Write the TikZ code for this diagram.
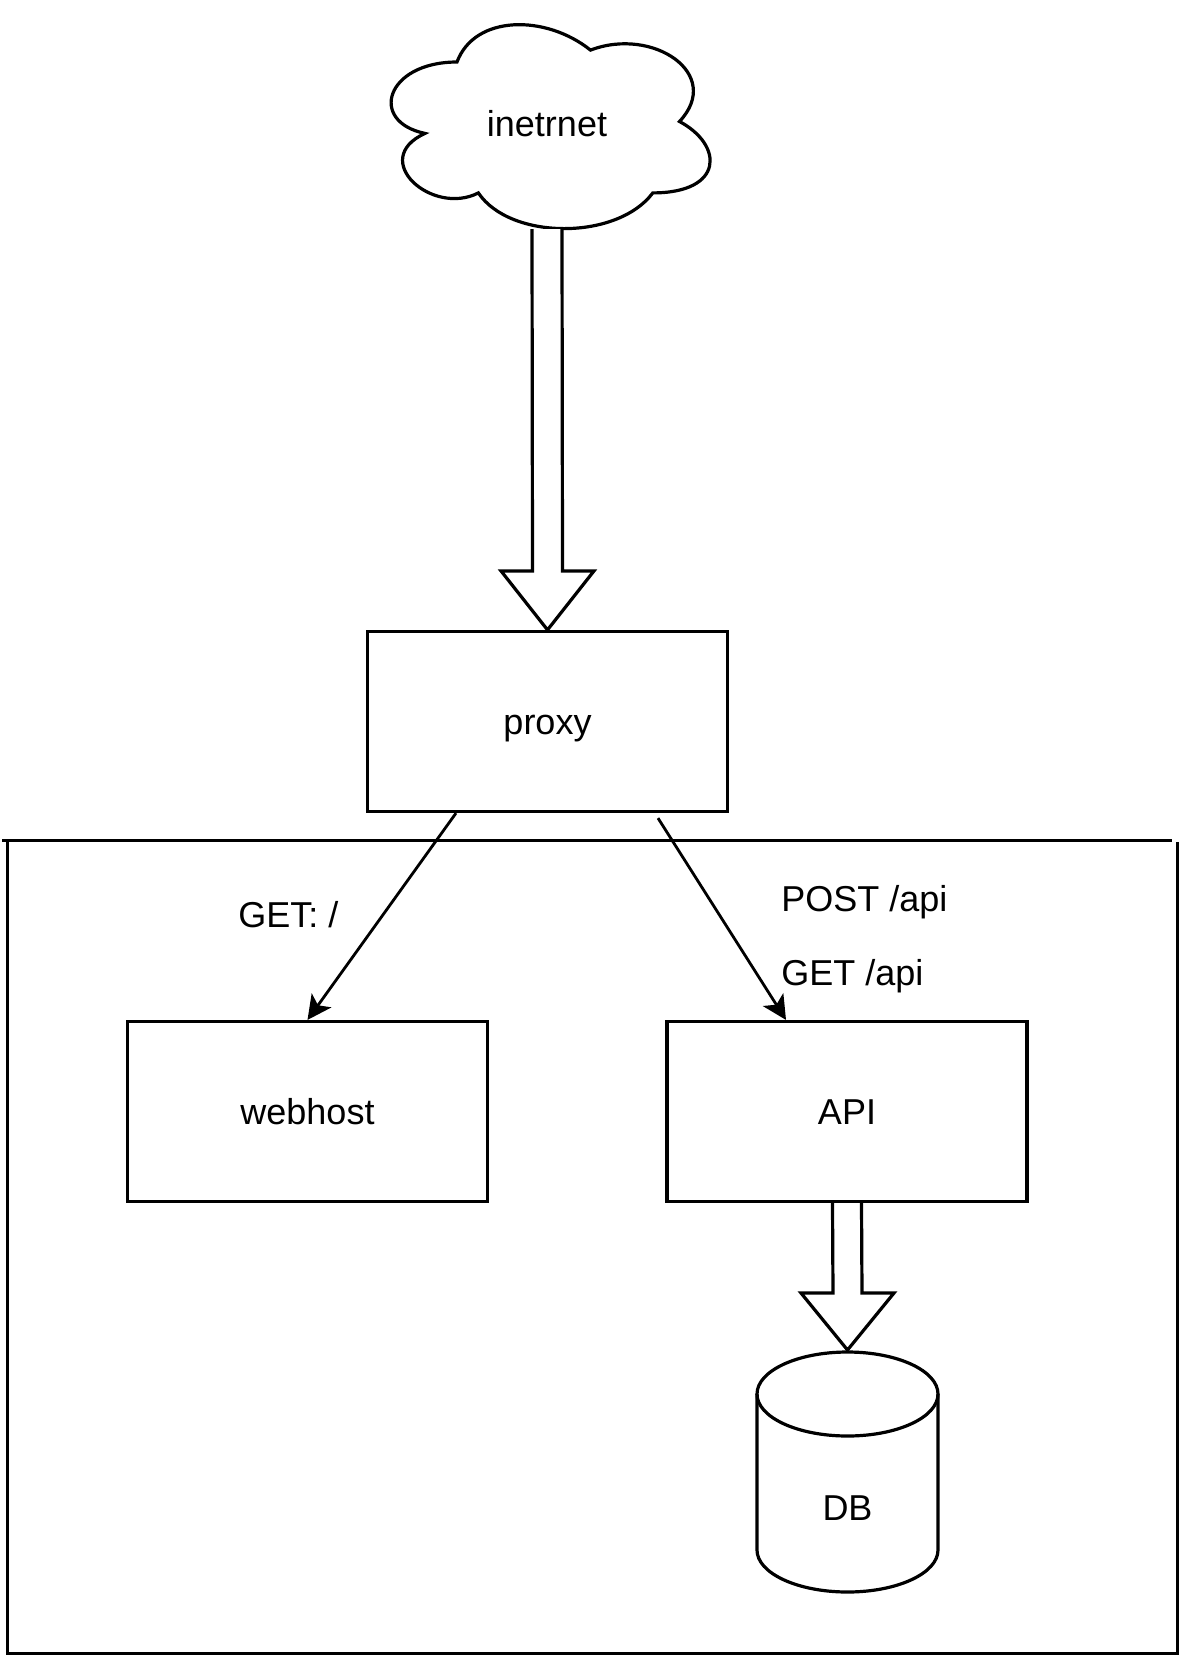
\documentclass[tikz,border=0pt]{standalone}
\usepackage{fontspec}
\setmainfont{Liberation Sans}
\usetikzlibrary{arrows.meta,calc}
\begin{document}
\begin{tikzpicture}[x=0.5pt,y=-0.5pt,
  box/.style={draw, line width=1.6pt, minimum width=180pt, minimum height=90pt, inner sep=0pt, text height=13pt, text depth=0pt, font=\fontsize{18}{22}\selectfont},
  lbl/.style={inner sep=0pt, font=\fontsize{18}{22}\selectfont},
  conn/.style={line width=1.4pt, -{Stealth[length=12pt,width=12pt,inset=3pt]}},
  fat/.style={draw, line width=1.6pt, fill=white, line join=miter},
  frame/.style={line width=1.5pt}]
\useasboundingbox (0,0) rectangle (1182,1656);

% container
\draw[frame] (2,840) -- (1172,840);
\draw[frame] (7,842) -- (7,1653) -- (1177,1653) -- (1177,842);

% cloud
\begin{scope}[shift={(184pt,-1.25pt)}, x=178pt, y=-119pt]
\draw[line width=1.6pt, fill=white]
  (0.25,0.25) .. controls (0.05,0.25) and (0,0.5) .. (0.16,0.55)
  .. controls (0,0.66) and (0.18,0.9) .. (0.31,0.8)
  .. controls (0.4,1) and (0.7,1) .. (0.8,0.8)
  .. controls (1,0.8) and (1,0.6) .. (0.875,0.5)
  .. controls (1,0.3) and (0.8,0.1) .. (0.625,0.2)
  .. controls (0.5,0.05) and (0.3,0.05) .. (0.25,0.25) -- cycle;
\end{scope}
\node[lbl] (net) at (547,124) {inetrnet};
\coordinate (netbot) at (547,229);

% boxes
\node[box] (proxy) at (547.5,721.5) {proxy};
\node[box] (web) at (307.5,1111.5) {webhost};
\node[box] (api) at (847,1111.5) {API};

% fat arrow internet -> proxy
\draw[fat] ($(netbot)+(-15,0)$) -- ($(proxy.north)+(-15,-59)$) -- ($(proxy.north)+(-46.5,-59)$)
  -- (proxy.north) -- ($(proxy.north)+(46.5,-59)$) -- ($(proxy.north)+(15,-59)$) -- ($(netbot)+(15,0)$);

% connectors
\draw[conn] ($(proxy.south)+(-91.5,0)$) -- (web.north);
\draw[conn] ($(proxy.south)+(110.5,5)$) -- ($(api.north)+(-61,0)$);

% labels
\node[lbl, anchor=base west] (lget) at (238,927) {GET: /};
\node[lbl, anchor=base west] (lpost) at (781,911) {POST /api};
\node[lbl, anchor=base west] (lgetapi) at (781,985) {GET /api};

% DB cylinder
\draw[line width=1.6pt, fill=white] (757,1394) -- (757,1550)
  arc[start angle=180, end angle=0, x radius=90.5, y radius=42]
  -- (938,1394)
  arc[start angle=0, end angle=-180, x radius=90.5, y radius=42] -- cycle;
\draw[line width=1.6pt] (757,1394) arc[start angle=180, end angle=0, x radius=90.5, y radius=42];
\coordinate (dbtop) at (847.5,1350);
\node[lbl] (db) at (847.5,1508) {DB};

% fat arrow API -> DB
\draw[fat] ($(api.south)+(-14.5,0)$) -- ($(dbtop)+(-14.5,-57)$) -- ($(dbtop)+(-46.5,-57)$)
  -- (dbtop) -- ($(dbtop)+(46.5,-57)$) -- ($(dbtop)+(14.5,-57)$) -- ($(api.south)+(14.5,0)$);
\end{tikzpicture}
\end{document}
